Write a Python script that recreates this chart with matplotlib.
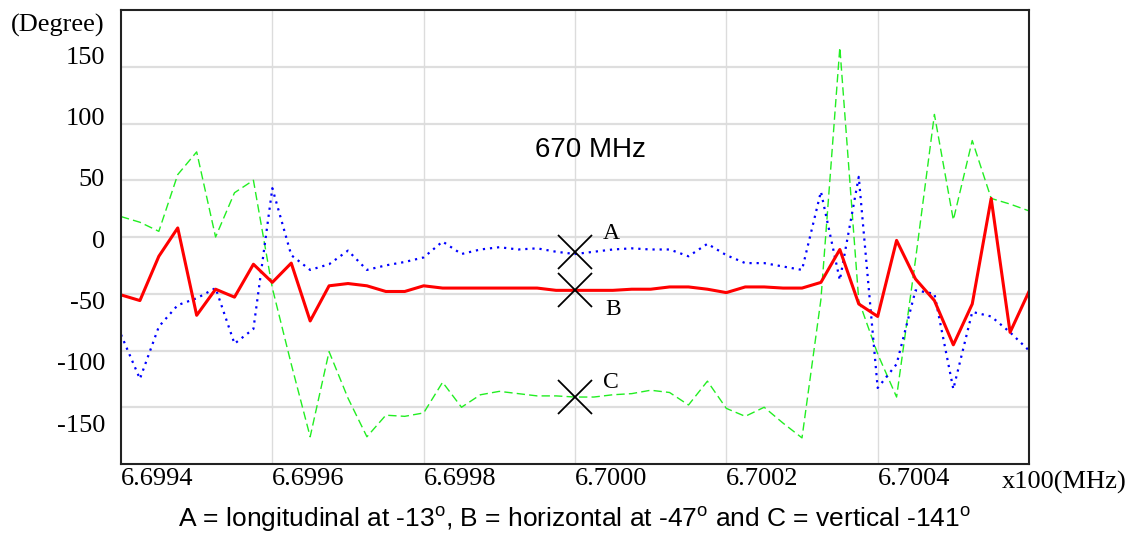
import numpy as np
import matplotlib
matplotlib.use('Agg')
import matplotlib.pyplot as plt

plt.rcParams['font.family'] = 'Liberation Serif'
plt.rcParams['mathtext.fontset'] = 'custom'
plt.rcParams['mathtext.rm'] = 'Liberation Sans'

# frequency axis, x100 MHz (49 samples, 2.5 kHz step)
freq = np.linspace(6.6994, 6.7006, 49)

# A = longitudinal (blue dotted)
phase_a = [-86, -125, -79, -60, -54, -45, -94, -81, 43, -16, -29, -24, -12,
           -29, -25, -22, -18, -4, -15, -11, -9, -11, -10, -13, -15,
           -13, -11, -10, -11, -11, -17, -6, -16, -23, -23, -26, -29,
           40, -38, 53, -133, -112, -47, -50, -134, -66, -70, -84, -100]
# B = horizontal (red solid)
phase_b = [-51, -56, -17, 8, -69, -46, -53, -24, -40, -23, -74, -43, -41,
           -43, -48, -48, -43, -45, -45, -45, -45, -45, -45, -47, -47,
           -47, -47, -46, -46, -44, -44, -46, -49, -44, -44, -45, -45,
           -40, -11, -59, -70, -3, -37, -56, -95, -59, 34, -84, -48]
# C = vertical (green dashed)
phase_c = [18, 13, 5, 55, 75, 0, 39, 50, -45, -112, -176, -101, -142,
           -176, -157, -158, -155, -128, -150, -139, -136, -138, -140, -140, -141,
           -141, -139, -138, -135, -137, -148, -127, -151, -158, -150, -164, -177,
           -55, 167, -56, -103, -141, -20, 108, 15, 85, 34, 29, 23]

marker_freq = 6.7000
marker_vals = [-13, -47, -141]
marker_names = ['A', 'B', 'C']

x_ticks = [6.6994, 6.6996, 6.6998, 6.7000, 6.7002, 6.7004]
y_ticks = [150, 100, 50, 0, -50, -100, -150]

fig = plt.figure(figsize=(11.36, 5.37), dpi=100)
ax = fig.add_axes([121/1136, 73/537, 908/1136, 454/537])

for v in y_ticks:
    ax.axhline(v, color='#dedede', lw=1.6, zorder=0)
for f in x_ticks[1:]:
    ax.axvline(f, color='#dcdcdc', lw=1.0, zorder=0)

ax.plot(freq, phase_c, color='#22ee22', lw=1.0, linestyle=(0, (6, 3)))
ax.plot(freq, phase_a, color='#0000ff', lw=1.6, linestyle=(0, (1, 2.2)))
ax.plot(freq, phase_b, color='#ff0000', lw=2.2)

ax.plot([marker_freq]*3, marker_vals, 'x', color='black', ms=24, mew=1.3)
offsets = [(36, 18), (38, -19), (36, 15)]
for v, name, off in zip(marker_vals, marker_names, offsets):
    ax.annotate(name, (marker_freq, v), xytext=off, textcoords='offset pixels',
                ha='center', va='center', fontsize=17)

ax.set_xlim(6.6994, 6.7006)
ax.set_ylim(-200, 200)

ax.set_xticks(x_ticks)
ax.set_xticklabels(['%.4f' % f for f in x_ticks], ha='left')
# tick labels of the original sit on a slightly stretched scale
ax.set_yticks([v*1.08 - 2 for v in y_ticks])
ax.set_yticklabels([str(v) for v in y_ticks])
ax.tick_params(axis='both', length=0, labelsize=19)
ax.tick_params(axis='y', pad=11.5)
ax.tick_params(axis='x', pad=3)

for s in ax.spines.values():
    s.set_linewidth(1.5)
    s.set_color('#222222')

ax.text(0.5165, 0.6916, '670 MHz', transform=ax.transAxes, ha='center', va='center',
        fontsize=20, family='Liberation Sans')

fig.text(105/1136, 1 - 25/537, '(Degree)', ha='right', va='center', fontsize=19)
fig.text(1002/1136, 1 - 482/537, 'x100(MHz)', ha='left', va='center', fontsize=19)
fig.text(575/1136, 1 - 519/537,
         r'A = longitudinal at -13$^{\mathrm{o}}$, B = horizontal at -47$^{\mathrm{o}}$ and C = vertical -141$^{\mathrm{o}}$',
         ha='center', va='center', fontsize=19, family='Liberation Sans')

fig.savefig('out.png', dpi=100)
